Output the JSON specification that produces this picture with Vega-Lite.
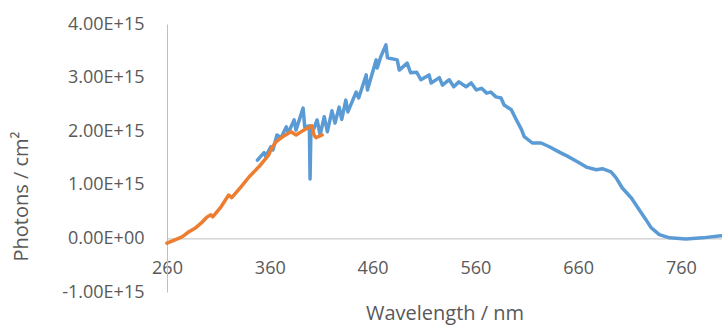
{
  "$schema": "https://vega.github.io/schema/vega-lite/v6.json",
  "width": 555,
  "height": 268,
  "autosize": {"type": "none"},
  "padding": {"left": 167, "top": 24, "right": 0, "bottom": 34},
  "background": "white",
  "config": {"view": {"stroke": null}, "font": "Open Sans"},
  "datasets": {
    "blue": [
      {"wl": 348, "ph": 1.46e15}, {"wl": 354.4, "ph": 1.60e15}, {"wl": 356, "ph": 1.53e15},
      {"wl": 361, "ph": 1.71e15}, {"wl": 363, "ph": 1.65e15}, {"wl": 367, "ph": 1.93e15},
      {"wl": 371, "ph": 1.88e15}, {"wl": 376, "ph": 2.08e15}, {"wl": 378, "ph": 1.97e15},
      {"wl": 383.7, "ph": 2.21e15}, {"wl": 385.5, "ph": 2.02e15}, {"wl": 392.4, "ph": 2.43e15},
      {"wl": 394, "ph": 2.08e15}, {"wl": 398.5, "ph": 2.10e15}, {"wl": 399.2, "ph": 1.11e15},
      {"wl": 400, "ph": 2.0e15}, {"wl": 403, "ph": 2.05e15}, {"wl": 406, "ph": 2.21e15},
      {"wl": 409, "ph": 1.93e15}, {"wl": 413, "ph": 2.27e15}, {"wl": 416, "ph": 1.99e15},
      {"wl": 420.5, "ph": 2.38e15}, {"wl": 423.5, "ph": 2.15e15}, {"wl": 427.5, "ph": 2.45e15},
      {"wl": 430, "ph": 2.22e15}, {"wl": 434, "ph": 2.58e15}, {"wl": 436, "ph": 2.36e15},
      {"wl": 444, "ph": 2.73e15}, {"wl": 446.5, "ph": 2.62e15}, {"wl": 453.8, "ph": 3.05e15},
      {"wl": 455, "ph": 2.77e15}, {"wl": 463.5, "ph": 3.33e15}, {"wl": 464.5, "ph": 3.18e15},
      {"wl": 468, "ph": 3.39e15}, {"wl": 473, "ph": 3.61e15}, {"wl": 474.5, "ph": 3.37e15},
      {"wl": 484, "ph": 3.33e15}, {"wl": 486, "ph": 3.14e15}, {"wl": 493.7, "ph": 3.27e15},
      {"wl": 497, "ph": 3.09e15}, {"wl": 503, "ph": 3.10e15}, {"wl": 507, "ph": 2.96e15},
      {"wl": 515, "ph": 3.05e15}, {"wl": 517, "ph": 2.90e15}, {"wl": 525, "ph": 3.00e15},
      {"wl": 528, "ph": 2.86e15}, {"wl": 534.6, "ph": 2.96e15}, {"wl": 539, "ph": 2.83e15},
      {"wl": 544, "ph": 2.92e15}, {"wl": 551, "ph": 2.83e15}, {"wl": 556, "ph": 2.90e15},
      {"wl": 561, "ph": 2.77e15}, {"wl": 566, "ph": 2.80e15}, {"wl": 571, "ph": 2.71e15},
      {"wl": 575, "ph": 2.73e15}, {"wl": 580, "ph": 2.64e15}, {"wl": 585, "ph": 2.62e15},
      {"wl": 588, "ph": 2.49e15}, {"wl": 595, "ph": 2.40e15}, {"wl": 600, "ph": 2.21e15},
      {"wl": 604.7, "ph": 2.04e15}, {"wl": 607.6, "ph": 1.90e15}, {"wl": 615.4, "ph": 1.78e15},
      {"wl": 624, "ph": 1.78e15}, {"wl": 632, "ph": 1.71e15}, {"wl": 641.7, "ph": 1.61e15},
      {"wl": 651, "ph": 1.52e15}, {"wl": 661, "ph": 1.41e15}, {"wl": 668, "ph": 1.33e15},
      {"wl": 677.7, "ph": 1.28e15}, {"wl": 683.6, "ph": 1.30e15}, {"wl": 692, "ph": 1.24e15},
      {"wl": 697, "ph": 1.13e15}, {"wl": 703, "ph": 0.94e15}, {"wl": 712, "ph": 0.75e15},
      {"wl": 719.6, "ph": 0.53e15}, {"wl": 726, "ph": 0.35e15}, {"wl": 731, "ph": 0.20e15},
      {"wl": 739, "ph": 0.07e15}, {"wl": 749, "ph": 0.01e15}, {"wl": 765, "ph": -0.01e15},
      {"wl": 781, "ph": 0.01e15}, {"wl": 799, "ph": 0.05e15}
    ],
    "orange": [
      {"wl": 260, "ph": -0.09e15}, {"wl": 266, "ph": -0.04e15}, {"wl": 274.6, "ph": 0.03e15},
      {"wl": 281, "ph": 0.12e15}, {"wl": 288, "ph": 0.20e15}, {"wl": 294, "ph": 0.30e15},
      {"wl": 299, "ph": 0.40e15}, {"wl": 302.8, "ph": 0.44e15}, {"wl": 304.5, "ph": 0.40e15},
      {"wl": 312.6, "ph": 0.59e15}, {"wl": 320, "ph": 0.81e15}, {"wl": 323, "ph": 0.76e15},
      {"wl": 332, "ph": 0.96e15}, {"wl": 340, "ph": 1.15e15}, {"wl": 349.6, "ph": 1.34e15},
      {"wl": 359, "ph": 1.56e15}, {"wl": 362, "ph": 1.69e15}, {"wl": 366, "ph": 1.80e15},
      {"wl": 372, "ph": 1.89e15}, {"wl": 380.7, "ph": 1.99e15}, {"wl": 385.6, "ph": 1.93e15},
      {"wl": 393, "ph": 2.02e15}, {"wl": 401, "ph": 2.10e15}, {"wl": 403, "ph": 1.93e15},
      {"wl": 405, "ph": 1.88e15}, {"wl": 411, "ph": 1.93e15}
    ]
  },
  "encoding": {
    "x": {
      "field": "wl", "type": "quantitative",
      "scale": {"domain": [260, 800], "nice": false, "zero": false},
      "axis": {
        "values": [260, 360, 460, 560, 660, 760],
        "offset": -53.6,
        "grid": false, "ticks": false,
        "domainColor": "#bfbfbf", "domainWidth": 1,
        "labelFont": "Open Sans", "labelFontSize": 18, "labelColor": "#595959",
        "labelPadding": 21, "labelFlush": false,
        "title": "Wavelength / nm",
        "titleFont": "Open Sans", "titleFontSize": 20, "titleFontWeight": "normal",
        "titleColor": "#595959", "titlePadding": 26
      }
    },
    "y": {
      "field": "ph", "type": "quantitative",
      "scale": {"domain": [-1e15, 4e15], "nice": false, "zero": false},
      "axis": {
        "values": [-1e15, 0, 1e15, 2e15, 3e15, 4e15],
        "labelExpr": "datum.value == 0 ? '0.00E+00' : replace(replace(format(datum.value, '.2e'), 'e', 'E'), '\u2212', '-')",
        "grid": false, "ticks": false,
        "domainColor": "#bfbfbf", "domainWidth": 1,
        "labelFont": "Open Sans", "labelFontSize": 18, "labelColor": "#595959",
        "labelPadding": 23, "labelFlush": false,
        "title": "Photons / cm²",
        "titleFont": "Open Sans", "titleFontSize": 20, "titleFontWeight": "normal",
        "titleColor": "#595959",
        "titleX": -146, "titleY": 172, "titleAlign": "center", "titleBaseline": "middle", "titleAngle": -90
      }
    }
  },
  "layer": [
    {
      "data": {"name": "blue"},
      "mark": {"type": "line", "color": "#5B9BD5", "strokeWidth": 3.5, "strokeJoin": "round", "strokeCap": "round"}
    },
    {
      "data": {"name": "orange"},
      "mark": {"type": "line", "color": "#ED7D31", "strokeWidth": 3.5, "strokeJoin": "round", "strokeCap": "round"}
    }
  ]
}
